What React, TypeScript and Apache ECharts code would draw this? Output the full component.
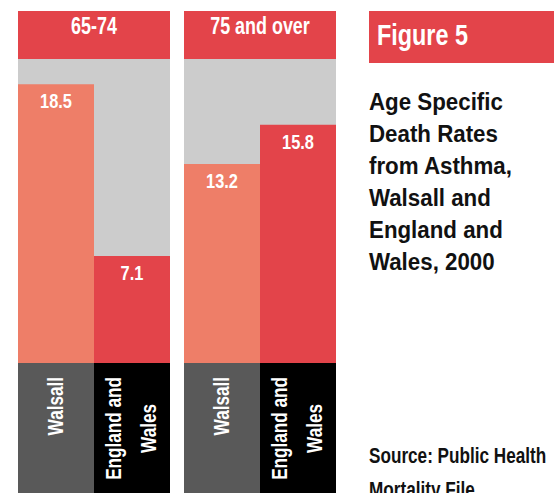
import React, { useEffect, useRef } from "react";
import * as echarts from "echarts";

const categories = ["Walsall", "England and Wales"];
const ageGroups = ["65-74", "75 and over"];
const rates6574 = [18.5, 7.1];
const rates75Over = [13.2, 15.8];
const panelRates = [rates6574, rates75Over];
const titleLines = ["Age Specific", "Death Rates", "from Asthma,", "Walsall and", "England and", "Wales, 2000"];
const figureLabel = "Figure 5";
const sourceLines = ["Source: Public Health", "Mortality File"];

const SANS = "'Liberation Sans', Arial, sans-serif";
const RED = "#e3444a";
const SALMON = "#ee7e68";
const barColors = [SALMON, RED];
const labelBgColors = ["#595959", "#000000"];
const Y_MIN = -8.63;
const Y_MAX = 20.17;
const panelLeft = [18, 184];
const panelWidth = 152;
const CONDENSE = 0.78;

export default function App() {
  const ref = useRef<HTMLDivElement>(null);
  useEffect(() => {
    if (!ref.current) return;
    const chart = echarts.init(ref.current, null, { renderer: "svg" });
    const grids = panelLeft.map((l) => ({
      left: l,
      width: panelWidth,
      top: 59,
      bottom: 0,
      show: true,
      backgroundColor: "#cccccc",
      borderWidth: 0,
      containLabel: false,
      outerBoundsMode: "none",
    }));
    const xAxes = panelLeft.map((_, i) => ({
      type: "category",
      gridIndex: i,
      data: categories,
      show: false,
    }));
    const yAxes = panelLeft.map((_, i) => ({
      type: "value",
      gridIndex: i,
      min: Y_MIN,
      max: Y_MAX,
      show: false,
      splitLine: { show: false },
    }));
    const series: any[] = [];
    panelRates.forEach((rates, i) => {
      series.push({
        type: "bar",
        name: ageGroups[i],
        xAxisIndex: i,
        yAxisIndex: i,
        barCategoryGap: 0,
        barGap: "-100%",
        data: rates.map((v, j) => ({ value: v, itemStyle: { color: barColors[j] } })),
      });
      series.push({
        type: "bar",
        xAxisIndex: i,
        yAxisIndex: i,
        barCategoryGap: 0,
        barGap: "-100%",
        silent: true,
        data: categories.map((_, j) => ({ value: Y_MIN, itemStyle: { color: labelBgColors[j] } })),
      });
    });
    chart.setOption({
      animation: false,
      backgroundColor: "#ffffff",
      grid: grids,
      xAxis: xAxes,
      yAxis: yAxes,
      series,
    });

    const graphic: any[] = [];
    ageGroups.forEach((g, i) => {
      graphic.push({
        type: "rect",
        z: 10,
        shape: { x: panelLeft[i], y: 11, width: panelWidth, height: 48 },
        style: { fill: RED },
      });
      graphic.push({
        type: "text",
        z: 11,
        x: panelLeft[i] + panelWidth / 2,
        y: 25.5,
        scaleX: CONDENSE,
        style: {
          text: g,
          fill: "#ffffff",
          font: `bold 23px ${SANS}`,
          textAlign: "center",
          textVerticalAlign: "middle",
        },
      });
    });
    // value labels and category labels placed through the axes' scales
    panelRates.forEach((rates, i) => {
      const finder = { xAxisIndex: i, yAxisIndex: i };
      rates.forEach((v, j) => {
        const p = chart.convertToPixel(finder as any, [j, v]) as number[];
        graphic.push({
          type: "text",
          z: 20,
          x: p[0],
          y: p[1] + 16.5,
          scaleX: CONDENSE,
          style: {
            text: v.toFixed(1),
            fill: "#ffffff",
            font: `bold 21px ${SANS}`,
            textAlign: "center",
            textVerticalAlign: "middle",
          },
        });
      });
      categories.forEach((c, j) => {
        const p = chart.convertToPixel(finder as any, [j, 0]) as number[];
        const two = c === "England and Wales";
        graphic.push({
          type: "text",
          z: 20,
          x: p[0] - 1,
          y: p[1] + 14,
          rotation: Math.PI / 2,
          scaleX: CONDENSE,
          style: {
            text: two ? "{a|England and}\n{b|Wales}" : "{a|" + c + "}",
            fill: "#ffffff",
            font: `bold 22px ${SANS}`,
            align: "right",
            verticalAlign: "middle",
            lineHeight: 35,
            rich: {
              a: { fill: "#ffffff", font: `bold 22px ${SANS}`, lineHeight: 35 },
              b: { fill: "#ffffff", font: `bold 22px ${SANS}`, lineHeight: 35, align: "center" },
            },
          },
        });
      });
    });
    graphic.push({
      type: "rect",
      z: 10,
      shape: { x: 369, y: 11, width: 185, height: 52 },
      style: { fill: RED },
    });
    graphic.push({
      type: "text",
      z: 11,
      x: 377,
      y: 34.5,
      scaleX: CONDENSE,
      style: {
        text: figureLabel,
        fill: "#ffffff",
        font: `bold 30px ${SANS}`,
        textAlign: "left",
        textVerticalAlign: "middle",
      },
    });
    graphic.push({
      type: "text",
      z: 11,
      x: 369,
      y: 86,
      scaleX: 0.93,
      style: {
        text: titleLines.join("\n"),
        fill: "#111111",
        font: `bold 24px ${SANS}`,
        lineHeight: 32,
        textAlign: "left",
        textVerticalAlign: "top",
      },
    });
    graphic.push({
      type: "text",
      z: 11,
      x: 369,
      y: 438.5,
      scaleX: CONDENSE,
      style: {
        text: sourceLines.join("\n"),
        fill: "#111111",
        font: `bold 22px ${SANS}`,
        lineHeight: 34,
        textAlign: "left",
        textVerticalAlign: "top",
      },
    });
    chart.setOption({ graphic });
    return () => chart.dispose();
  }, []);
  return (
    <div
      ref={ref}
      style={{ position: "fixed", left: 0, top: 0, width: 554, height: 493 }}
    />
  );
}
